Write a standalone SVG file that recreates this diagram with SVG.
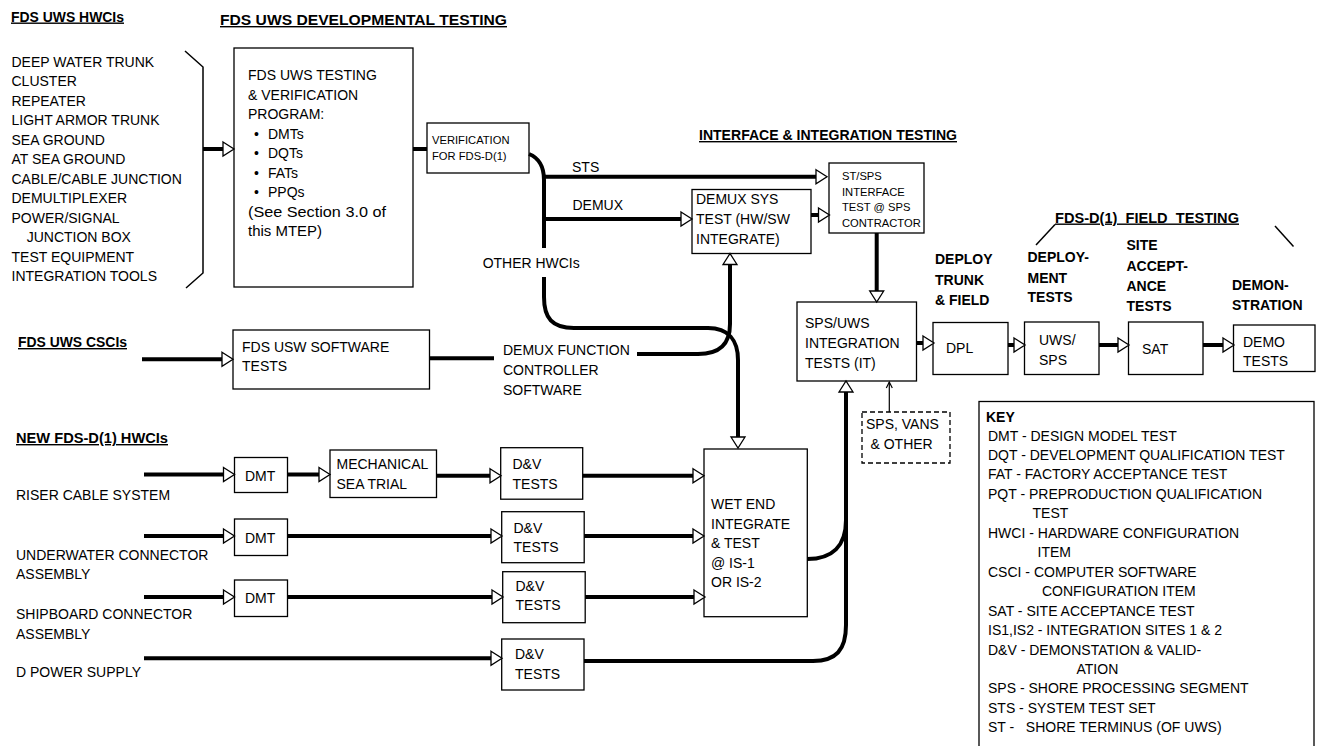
<svg xmlns="http://www.w3.org/2000/svg" width="1323" height="746" viewBox="0 0 1323 746">
<style>
text{font-family:"Liberation Sans",Arial,sans-serif;font-size:14px;fill:#000}
.t{font-weight:bold;text-decoration:underline}
.b{font-weight:bold}
.s{font-size:11.2px}
.box{fill:#fff;stroke:#000;stroke-width:1.3}
.dash{fill:#fff;stroke:#000;stroke-width:1.3;stroke-dasharray:5 3}
.w{fill:none;stroke:#000;stroke-width:4}
.thin{fill:none;stroke:#000;stroke-width:1.2}
.br{fill:none;stroke:#000;stroke-width:1.5}
</style>
<defs>
<marker id="ah" markerUnits="userSpaceOnUse" markerWidth="14" markerHeight="16" refX="0" refY="7.5" orient="auto" overflow="visible"><path d="M0,0.5 L11,7.5 L0,14.5 Z" fill="#fff" stroke="#000" stroke-width="1.3"/></marker>
<marker id="sa" markerUnits="userSpaceOnUse" markerWidth="8" markerHeight="8" refX="6" refY="3" orient="auto" overflow="visible"><path d="M0,0 L6,3 L0,6" fill="none" stroke="#000" stroke-width="1.2"/></marker>
</defs>
<rect width="1323" height="746" fill="#fff"/>

<g id="titles">
<text class="t" x="11" y="21.5" textLength="113" lengthAdjust="spacingAndGlyphs">FDS UWS HWCIs</text>
<text class="t" x="220" y="25" textLength="287" lengthAdjust="spacingAndGlyphs">FDS UWS DEVELOPMENTAL TESTING</text>
<text class="t" x="699" y="140" textLength="258" lengthAdjust="spacingAndGlyphs">INTERFACE &amp; INTEGRATION TESTING</text>
<text class="t" x="1055" y="222.5" textLength="184" lengthAdjust="spacingAndGlyphs" xml:space="preserve">FDS-D(1)  FIELD  TESTING</text>
<text class="t" x="18" y="347" textLength="109" lengthAdjust="spacingAndGlyphs">FDS UWS CSCIs</text>
<text class="t" x="16" y="443" textLength="152" lengthAdjust="spacingAndGlyphs">NEW FDS-D(1) HWCIs</text>
</g>

<g id="hwci-list">
<text x="11.5" y="66.8">DEEP WATER TRUNK</text>
<text x="11.5" y="86.3">CLUSTER</text>
<text x="11.5" y="105.8">REPEATER</text>
<text x="11.5" y="125.2">LIGHT ARMOR TRUNK</text>
<text x="11.5" y="144.7">SEA GROUND</text>
<text x="11.5" y="164.2">AT SEA GROUND</text>
<text x="11.5" y="183.7">CABLE/CABLE JUNCTION</text>
<text x="11.5" y="203.2">DEMULTIPLEXER</text>
<text x="11.5" y="222.6">POWER/SIGNAL</text>
<text x="26.7" y="242.1">JUNCTION BOX</text>
<text x="11.5" y="261.6">TEST EQUIPMENT</text>
<text x="11.5" y="281">INTEGRATION TOOLS</text>
<polyline class="br" points="185,51 203,67 203,273 186,288"/>
</g>

<g id="testing-program">
<rect class="box" x="234" y="48" width="179" height="239"/>
<text x="248" y="80">FDS UWS TESTING</text>
<text x="248" y="99.5">&amp; VERIFICATION</text>
<text x="248" y="119">PROGRAM:</text>
<text x="254" y="138.5">•<tspan x="268">DMTs</tspan></text>
<text x="254" y="158">•<tspan x="268">DQTs</tspan></text>
<text x="254" y="177.5">•<tspan x="268">FATs</tspan></text>
<text x="254" y="197">•<tspan x="268">PPQs</tspan></text>
<text x="248" y="216.5" textLength="138" lengthAdjust="spacingAndGlyphs">(See Section 3.0 of</text>
<text x="248" y="236" textLength="74" lengthAdjust="spacingAndGlyphs">this MTEP)</text>
</g>

<g id="verification">
<rect class="box" x="427" y="123" width="102" height="50"/>
<text class="s" x="432" y="143.5" font-size="11.5">VERIFICATION</text>
<text class="s" x="432" y="160">FOR FDS-D(1)</text>
</g>

<g id="demux-sys">
<rect class="box" x="692" y="189.5" width="119" height="64"/>
<text x="696" y="203.5">DEMUX SYS</text>
<text x="696" y="224">TEST (HW/SW</text>
<text x="696" y="243.5">INTEGRATE)</text>
</g>

<g id="st-sps">
<rect class="box" x="829" y="163" width="95" height="70"/>
<text class="s" x="842" y="180">ST/SPS</text>
<text class="s" x="842" y="195.5">INTERFACE</text>
<text class="s" x="842" y="211">TEST @ SPS</text>
<text class="s" x="842" y="226.5">CONTRACTOR</text>
</g>

<g id="sps-uws">
<rect class="box" x="797" y="302" width="119.5" height="79"/>
<text x="805" y="327.5">SPS/UWS</text>
<text x="805" y="347.5">INTEGRATION</text>
<text x="805" y="367.5">TESTS (IT)</text>
</g>

<g id="sps-vans">
<rect class="dash" x="862" y="412" width="88" height="51"/>
<text x="866" y="429">SPS, VANS</text>
<text x="870.5" y="449">&amp; OTHER</text>
</g>

<g id="field-labels">
<text class="b" x="935" y="264">DEPLOY</text>
<text class="b" x="935" y="284.5">TRUNK</text>
<text class="b" x="935" y="304.5">&amp; FIELD</text>
<text class="b" x="1027.5" y="262">DEPLOY-</text>
<text class="b" x="1027.5" y="282.5">MENT</text>
<text class="b" x="1027.5" y="302">TESTS</text>
<text class="b" x="1126.5" y="250">SITE</text>
<text class="b" x="1126.5" y="270.5">ACCEPT-</text>
<text class="b" x="1126.5" y="290.5">ANCE</text>
<text class="b" x="1126.5" y="310.5">TESTS</text>
<text class="b" x="1232" y="290">DEMON-</text>
<text class="b" x="1232" y="310">STRATION</text>
<line class="br" x1="1055" y1="224.5" x2="1036" y2="245"/>
<line class="br" x1="1275" y1="226" x2="1293.5" y2="246.5"/>
</g>

<g id="dpl">
<rect class="box" x="933" y="322.5" width="75" height="52"/>
<text x="946" y="353">DPL</text>
</g>
<g id="uws-sps">
<rect class="box" x="1024.5" y="322" width="74.5" height="52.5"/>
<text x="1039" y="344.5">UWS/</text>
<text x="1039" y="365">SPS</text>
</g>
<g id="sat">
<rect class="box" x="1128.5" y="322" width="74.5" height="52.5"/>
<text x="1142" y="353.5">SAT</text>
</g>
<g id="demo">
<rect class="box" x="1233.5" y="325" width="81.5" height="46.5"/>
<text x="1243" y="347">DEMO</text>
<text x="1243" y="366">TESTS</text>
</g>

<g id="key">
<rect class="box" x="979" y="401.5" width="335" height="360"/>
<text class="b" x="986" y="421.5">KEY</text>
<text x="988" y="440.5">DMT - DESIGN MODEL TEST</text>
<text x="988" y="460">DQT - DEVELOPMENT QUALIFICATION TEST</text>
<text x="988" y="479.4">FAT - FACTORY ACCEPTANCE TEST</text>
<text x="988" y="498.9">PQT - PREPRODUCTION QUALIFICATION</text>
<text x="1032.5" y="518.3">TEST</text>
<text x="988" y="537.8">HWCI - HARDWARE CONFIGURATION</text>
<text x="1037.5" y="557.2">ITEM</text>
<text x="988" y="576.7">CSCI - COMPUTER SOFTWARE</text>
<text x="1042" y="596.1">CONFIGURATION ITEM</text>
<text x="988" y="615.6">SAT - SITE ACCEPTANCE TEST</text>
<text x="988" y="635">IS1,IS2 - INTEGRATION SITES 1 &amp; 2</text>
<text x="988" y="654.5">D&amp;V - DEMONSTATION &amp; VALID-</text>
<text x="1076.5" y="673.9">ATION</text>
<text x="988" y="693.4">SPS - SHORE PROCESSING SEGMENT</text>
<text x="988" y="712.8">STS - SYSTEM TEST SET</text>
<text x="988" y="732.3" xml:space="preserve">ST -   SHORE TERMINUS (OF UWS)</text>
</g>

<g id="sw-tests">
<rect class="box" x="233" y="330" width="196.5" height="59"/>
<text x="242" y="351.5">FDS USW SOFTWARE</text>
<text x="242" y="370.5">TESTS</text>
</g>
<g id="demux-fc-label">
<text x="503" y="355">DEMUX FUNCTION</text>
<text x="503" y="375">CONTROLLER</text>
<text x="503" y="394.5">SOFTWARE</text>
</g>

<g id="row-labels">
<text x="16" y="500">RISER CABLE SYSTEM</text>
<text x="16" y="560">UNDERWATER CONNECTOR</text>
<text x="16" y="579">ASSEMBLY</text>
<text x="16" y="619">SHIPBOARD CONNECTOR</text>
<text x="16" y="638.5">ASSEMBLY</text>
<text x="16" y="676.5">D POWER SUPPLY</text>
</g>

<g id="dmt1"><rect class="box" x="234.5" y="457.5" width="53" height="35"/><text x="245" y="480.5">DMT</text></g>
<g id="mech"><rect class="box" x="330" y="450" width="106.5" height="47.5"/><text x="336.5" y="469">MECHANICAL</text><text x="336.5" y="489">SEA TRIAL</text></g>
<g id="dmt2"><rect class="box" x="234.5" y="519" width="53" height="36.5"/><text x="245" y="543">DMT</text></g>
<g id="dmt3"><rect class="box" x="234.5" y="580" width="53" height="36.5"/><text x="245" y="603">DMT</text></g>
<g id="dv1"><rect class="box" x="500.7" y="447.7" width="82" height="51.5"/><text x="512.5" y="468.5">D&amp;V</text><text x="512.5" y="488.5">TESTS</text></g>
<g id="dv2"><rect class="box" x="501.7" y="511.7" width="82.5" height="51"/><text x="513.5" y="532.5">D&amp;V</text><text x="513.5" y="551.5">TESTS</text></g>
<g id="dv3"><rect class="box" x="502.7" y="571.7" width="82.5" height="51"/><text x="515.5" y="591">D&amp;V</text><text x="515.5" y="610">TESTS</text></g>
<g id="dv4"><rect class="box" x="501.7" y="639" width="82.3" height="51"/><text x="515" y="658.5">D&amp;V</text><text x="515" y="678.5">TESTS</text></g>
<g id="wet-end">
<rect class="box" x="704" y="449" width="103.3" height="167.7"/>
<text x="711" y="509">WET END</text>
<text x="711" y="528.5">INTEGRATE</text>
<text x="711" y="548">&amp; TEST</text>
<text x="711" y="567.5">@ IS-1</text>
<text x="711" y="587">OR IS-2</text>
</g>

<g id="connector-labels">
<text x="572" y="171.5">STS</text>
<text x="572.5" y="210">DEMUX</text>
<text x="482.7" y="268" textLength="97" lengthAdjust="spacingAndGlyphs">OTHER HWCIs</text>
</g>

<g id="connectors">
<path class="w" d="M203,149 H223" marker-end="url(#ah)"/>
<path class="w" d="M413,149 H427"/>
<path class="w" d="M529,154 C539,158 544,166 544,180 V248"/>
<path class="w" d="M544,277 V297 C544,318 552,328 574,328 H708 C728,328 738,340 738,360 V437" marker-end="url(#ah)"/>
<path class="w" d="M544,176.7 H816" marker-end="url(#ah)"/>
<path class="w" d="M544,219 H681" marker-end="url(#ah)"/>
<path class="w" d="M811,215 H818.5" marker-end="url(#ah)"/>
<path class="w" d="M876.7,233 V291" marker-end="url(#ah)"/>
<path class="w" d="M142,359.3 H222" marker-end="url(#ah)"/>
<path class="w" d="M429.5,358.3 H494"/>
<path class="w" d="M637,354 H698 C720,354 730,344 730,324 V264.5" marker-end="url(#ah)"/>
<path class="w" d="M584,661 H813 C836,661 846,650 846,625 V392" marker-end="url(#ah)"/>
<path class="w" d="M807.3,559 C832,559 846,546 846,520"/>
<path class="thin" d="M889.3,412 V382" marker-end="url(#sa)"/>
<path class="w" d="M916.5,343 H923" marker-end="url(#ah)"/>
<path class="w" d="M1008,345 H1014" marker-end="url(#ah)"/>
<path class="w" d="M1099,345 H1118" marker-end="url(#ah)"/>
<path class="w" d="M1203,345 H1223" marker-end="url(#ah)"/>
<path class="w" d="M144,474.5 H223.5" marker-end="url(#ah)"/>
<path class="w" d="M287.5,474.5 H319" marker-end="url(#ah)"/>
<path class="w" d="M436.5,475.7 H490" marker-end="url(#ah)"/>
<path class="w" d="M582.7,475.7 H693" marker-end="url(#ah)"/>
<path class="w" d="M144,536 H223.5" marker-end="url(#ah)"/>
<path class="w" d="M287.5,536 H491" marker-end="url(#ah)"/>
<path class="w" d="M584.2,536 H693" marker-end="url(#ah)"/>
<path class="w" d="M144,597 H223.5" marker-end="url(#ah)"/>
<path class="w" d="M287.5,597 H492" marker-end="url(#ah)"/>
<path class="w" d="M585.2,597 H694" marker-end="url(#ah)"/>
<path class="w" d="M144,658.3 H491" marker-end="url(#ah)"/>
</g>
</svg>
